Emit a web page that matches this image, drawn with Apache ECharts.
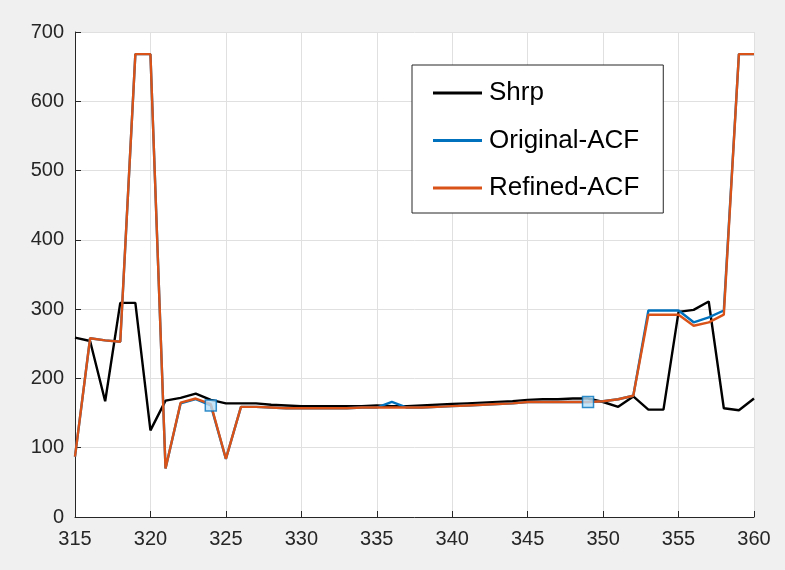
<!DOCTYPE html>
<html>
<head>
<meta charset="utf-8">
<script src="https://cdn.jsdelivr.net/npm/echarts@6/dist/echarts.min.js"></script>
<style>
  html, body { margin: 0; padding: 0; background: #f0f0f0; }
  #chart { width: 785px; height: 570px; }
</style>
</head>
<body>
<div id="chart"></div>
<script>
// Sample index along the x axis
const xValues = [315, 316, 317, 318, 319, 320, 321, 322, 323, 324, 325, 326, 327, 328, 329, 330,
  331, 332, 333, 334, 335, 336, 337, 338, 339, 340, 341, 342, 343, 344, 345, 346, 347, 348, 349,
  350, 351, 352, 353, 354, 355, 356, 357, 358, 359, 360];

const shrp = [259, 254, 167, 309, 309, 125, 168, 172, 178, 169, 164, 164, 164, 162, 161, 160,
  160, 160, 160, 160, 161, 160, 160, 161, 162, 163, 164, 165, 166, 167, 169, 170, 170, 171, 171,
  166, 159, 174, 155, 155, 296, 299, 311, 157, 154, 171];

const originalAcf = [87, 258, 255, 253, 668, 668, 70, 164, 170, 161, 84, 159, 159, 158, 157, 157,
  157, 157, 157, 158, 158, 166, 158, 158, 159, 160, 161, 162, 163, 164, 166, 166, 166, 166, 166,
  167, 170, 175, 298, 298, 298, 281, 288, 298, 668, 668];

const refinedAcf = [87, 258, 255, 253, 668, 668, 70, 165, 171, 163, 84, 159, 159, 158, 157, 157,
  157, 157, 157, 158, 158, 158, 158, 158, 159, 160, 161, 162, 163, 164, 166, 166, 166, 166, 166,
  167, 170, 175, 292, 292, 292, 276, 281, 292, 668, 668];

// Highlighted samples on the Original-ACF curve
const markedX = [324, 349];

const xTicks = { min: 315, max: 360, step: 5 };
const yTicks = { min: 0, max: 700, step: 100 };

const pair = (ys) => xValues.map((x, i) => [x, ys[i]]);
const markedPoints = markedX.map((x) => [x, originalAcf[xValues.indexOf(x)]]);

const fontFamily = 'Liberation Sans, Arial, sans-serif';
const axisText = { color: '#262626', fontFamily: fontFamily, fontSize: 20 };

const chart = echarts.init(document.getElementById('chart'));
chart.setOption({
  backgroundColor: '#f0f0f0',
  animation: false,
  grid: {
    left: 75, right: 31, top: 32, bottom: 53,
    show: true, backgroundColor: '#ffffff', borderWidth: 0
  },
  xAxis: {
    type: 'value',
    min: xTicks.min, max: xTicks.max, interval: xTicks.step,
    axisLine: { onZero: false, lineStyle: { color: '#262626', width: 1 } },
    axisTick: { inside: true, length: 6, lineStyle: { color: '#262626' } },
    axisLabel: Object.assign({ margin: 12 }, axisText),
    splitLine: { show: true, lineStyle: { color: '#e0e0e0', width: 1 } }
  },
  yAxis: {
    type: 'value',
    min: yTicks.min, max: yTicks.max, interval: yTicks.step,
    axisLine: { show: true, onZero: false, lineStyle: { color: '#262626', width: 1 } },
    axisTick: { show: true, inside: true, length: 6, lineStyle: { color: '#262626' } },
    axisLabel: Object.assign({ margin: 11 }, axisText),
    splitLine: { show: true, lineStyle: { color: '#e0e0e0', width: 1 } }
  },
  legend: {
    orient: 'vertical',
    left: 412, top: 65,
    padding: [15, 24, 12, 21],
    itemGap: 21.5,
    itemWidth: 49,
    itemHeight: 3,
    backgroundColor: '#ffffff',
    borderColor: '#262626',
    borderWidth: 1,
    borderRadius: 0,
    icon: 'rect',
    data: ['Shrp', 'Original-ACF', 'Refined-ACF'],
    textStyle: {
      color: '#000000', fontFamily: fontFamily, fontSize: 26, lineHeight: 26,
      padding: [0, 0, 0, 2]
    }
  },
  series: [
    {
      name: 'Shrp', type: 'line', data: pair(shrp),
      showSymbol: false, symbol: 'none',
      color: '#000000', lineStyle: { width: 2.4, color: '#000000' }, z: 2
    },
    {
      name: 'Original-ACF', type: 'line', data: pair(originalAcf),
      showSymbol: false, symbol: 'none',
      color: '#0072bd', lineStyle: { width: 2.4, color: '#0072bd' }, z: 3
    },
    {
      name: 'Refined-ACF', type: 'line', data: pair(refinedAcf),
      showSymbol: false, symbol: 'none',
      color: '#d95319', lineStyle: { width: 2.4, color: '#d95319' }, z: 4
    },
    {
      name: 'marked', type: 'scatter', data: markedPoints,
      symbol: 'rect', symbolSize: 11,
      itemStyle: { color: '#b7e0f7', borderColor: '#0072bd', borderWidth: 1.5 }, z: 5
    }
  ]
});
</script>
</body>
</html>
